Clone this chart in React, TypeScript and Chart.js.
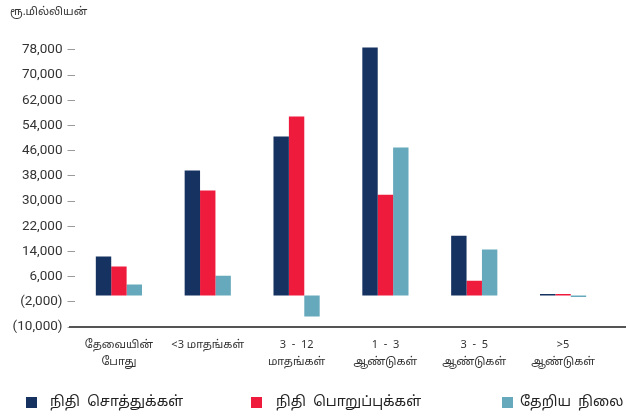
import React, { useEffect, useRef } from "react";
import { Chart, registerables } from "chart.js";

Chart.register(...registerables);

const categories: string[][] = [
  ["தேவையின்", "போது"],
  ["<3 மாதங்கள்"],
  ["3  -  12", "மாதங்கள்"],
  ["1  -  3", "ஆண்டுகள்"],
  ["3  -  5", "ஆண்டுகள்"],
  [">5", "ஆண்டுகள்"],
];
const seriesNames = ["நிதி  சொத்துக்கள்", "நிதி  பொறுப்புக்கள்", "தேறிய  நிலை"];
const assets = [12400, 39700, 50500, 78700, 19000, 500];
const liabilities = [9200, 33300, 56800, 32000, 4700, 500];
const netPosition = [3500, 6300, -6700, 47000, 14600, -500];
const yTicks = [-10000, -2000, 6000, 14000, 22000, 30000, 38000, 46000, 54000, 62000, 70000, 78000];
const yTitle = "ரூ.மில்லியன்";
const colors = ["#163260", "#EE1B3C", "#66A9BC"];

const TAMIL = "'Noto Sans Tamil', 'Lohit Tamil', 'Noto Sans', 'DejaVu Sans', sans-serif";

const fmt = (v: number) => {
  const s = Math.abs(v).toLocaleString("en-US");
  return v < 0 ? `(${s})` : s;
};

const extrasPlugin = {
  id: "extras",
  afterDraw(chart: any) {
    const ctx = chart.ctx;
    const area = chart.chartArea;
    ctx.save();
    // bottom axis line
    ctx.strokeStyle = "#555555";
    ctx.lineWidth = 2;
    ctx.beginPath();
    ctx.moveTo(69, area.bottom);
    ctx.lineTo(626, area.bottom);
    ctx.stroke();
    // y title
    ctx.fillStyle = "#333333";
    ctx.font = `11px ${TAMIL}`;
    ctx.textBaseline = "middle";
    ctx.textAlign = "left";
    ctx.fillText(yTitle, 10, 13);
    // legend
    const boxX = [26, 251, 502];
    const textX = [50, 276, 520];
    ctx.font = `14px ${TAMIL}`;
    seriesNames.forEach((name, i) => {
      ctx.fillStyle = colors[i];
      ctx.fillRect(boxX[i], 397, 11, 11);
      ctx.fillStyle = "#222222";
      ctx.fillText(name, textX[i], 403);
    });
    ctx.restore();
  },
};

export default function App() {
  const ref = useRef<HTMLCanvasElement>(null);
  useEffect(() => {
    if (!ref.current) return;
    const chart = new Chart(ref.current, {
      type: "bar",
      data: {
        labels: categories,
        datasets: [
          { label: seriesNames[0], data: assets, backgroundColor: colors[0] },
          { label: seriesNames[1], data: liabilities, backgroundColor: colors[1] },
          { label: seriesNames[2], data: netPosition, backgroundColor: colors[2] },
        ],
      },
      options: {
        animation: false,
        responsive: false,
        maintainAspectRatio: false,
        layout: { padding: { top: 43.5, right: 22.5, left: 0, bottom: 0 } },
        datasets: {
          bar: { categoryPercentage: 0.52, barPercentage: 1.0 },
        },
        plugins: {
          legend: { display: false },
          tooltip: { enabled: false },
        },
        scales: {
          x: {
            grid: { display: false },
            border: { display: false },
            ticks: {
              color: "#333333",
              font: { family: TAMIL, size: 11, lineHeight: "17px" },
              padding: 2,
              maxRotation: 0,
              autoSkip: false,
            },
            afterFit(scale: any) {
              scale.height = 89;
            },
          },
          y: {
            min: -10000,
            max: 80000,
            border: { display: false },
            grid: {
              drawOnChartArea: false,
              drawTicks: true,
              tickLength: 7,
              color: "#9a9a9a",
              lineWidth: 1,
            },
            ticks: {
              color: "#333333",
              padding: 5,
              font: { family: "Roboto, sans-serif", size: 13.5 },
              callback: (v: any) => fmt(Number(v)),
            },
            afterBuildTicks(scale: any) {
              scale.ticks = yTicks.map((v) => ({ value: v }));
            },
            afterFit(scale: any) {
              scale.width = 74.5;
            },
          },
        },
      },
      plugins: [extrasPlugin],
    });
    return () => chart.destroy();
  }, []);
  return (
    <div style={{ position: "absolute", left: 0, top: 0, width: 630, height: 416, background: "#fff" }}>
      <canvas ref={ref} width={630} height={416} style={{ width: 630, height: 416 }} />
    </div>
  );
}
